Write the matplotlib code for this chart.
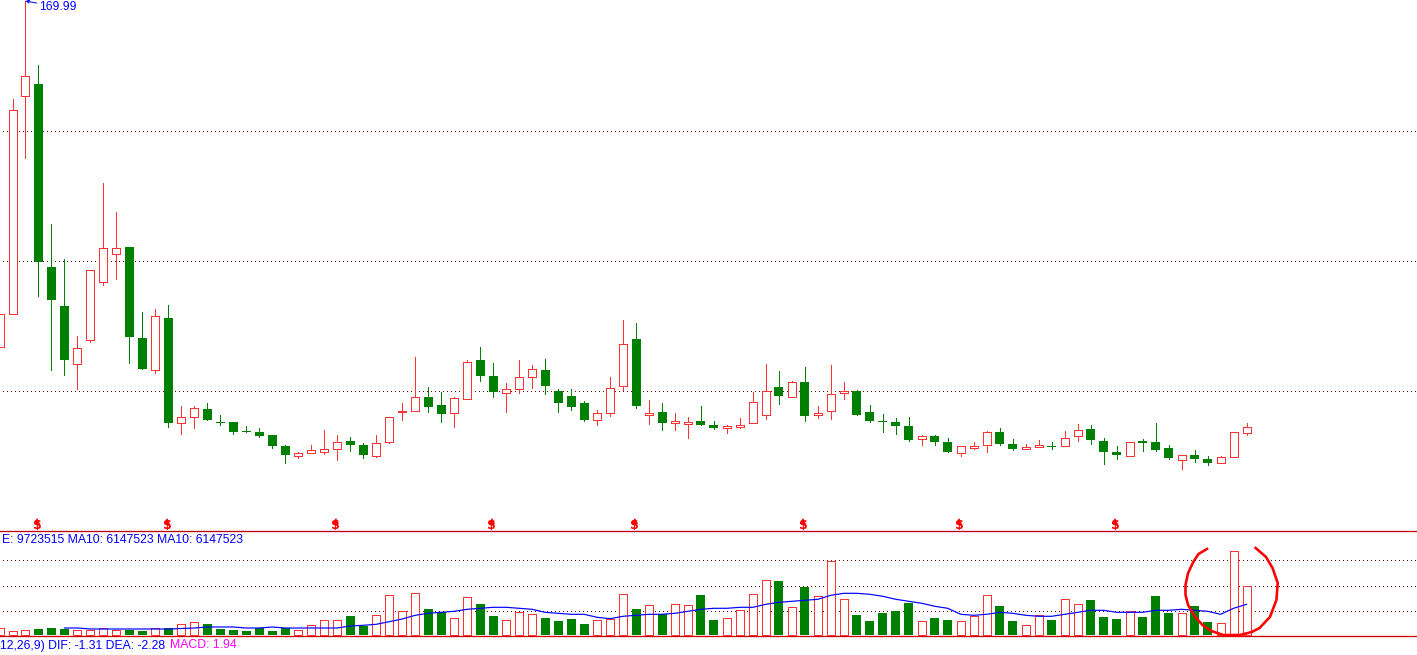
"""Candlestick chart with volume pane, redrawn from a trading-software screenshot."""
import numpy as np
import matplotlib
matplotlib.use("Agg")
import matplotlib.pyplot as plt

# price and volume are in chart units
high = [217, 432, 530, 466, 307, 272, 195, 261, 348, 319, 284, 219, 222, 226, 125, 125, 128, 116, 109, 105,
        103, 96, 86, 79, 86, 101, 96, 94, 88, 96, 114, 128, 174, 144, 139, 134, 171, 184, 168, 148,
        171, 166, 172, 142, 142, 130, 121, 154, 211, 208, 131, 128, 118, 114, 125, 110, 106, 113, 139, 167,
        160, 150, 164, 125, 166, 149, 141, 126, 117, 113, 114, 96, 96, 93, 85, 89, 100, 103, 92, 87,
        91, 89, 100, 107, 106, 93, 85, 89, 92, 108, 86, 76, 81, 75, 75, 99, 108]
low = [184, 217, 373, 235, 161, 156, 142, 189, 246, 252, 168, 162, 158, 104, 97, 103, 111, 106, 97, 99,
       94, 83, 68, 73, 78, 77, 71, 80, 73, 74, 88, 111, 120, 119, 109, 104, 132, 150, 134, 119,
       138, 143, 137, 119, 121, 110, 106, 115, 141, 123, 107, 101, 101, 93, 106, 102, 98, 103, 108, 112,
       127, 134, 110, 113, 112, 132, 116, 109, 99, 97, 90, 86, 86, 79, 75, 82, 79, 86, 81, 82,
       84, 82, 85, 90, 87, 67, 72, 75, 80, 80, 72, 62, 69, 66, 68, 74, 96]
open_ = [184, 217, 435, 447, 264, 225, 167, 191, 249, 277, 284, 193, 161, 213, 108, 114, 122, 109, 109, 100,
         99, 96, 85, 75, 78, 79, 82, 90, 86, 75, 89, 119, 120, 134, 126, 118, 132, 171, 155, 138,
         142, 154, 161, 140, 135, 128, 111, 118, 145, 192, 116, 119, 108, 107, 110, 106, 103, 104, 108, 116,
         144, 134, 149, 116, 120, 138, 140, 119, 110, 109, 105, 92, 95, 89, 78, 83, 86, 99, 87, 82,
         84, 85, 85, 95, 102, 90, 79, 75, 90, 89, 83, 71, 76, 72, 68, 74, 98]
close = [217, 421, 455, 269, 231, 171, 183, 261, 283, 283, 194, 162, 215, 108, 114, 123, 111, 108, 99, 99,
         95, 85, 76, 78, 81, 82, 89, 86, 76, 88, 114, 120, 134, 124, 117, 133, 169, 155, 139, 142,
         154, 162, 145, 128, 124, 111, 118, 143, 187, 125, 118, 108, 110, 109, 106, 103, 105, 106, 129, 140,
         135, 149, 115, 118, 137, 140, 116, 110, 109, 105, 91, 95, 89, 79, 85, 85, 99, 87, 82, 84,
         86, 84, 93, 101, 91, 79, 76, 89, 88, 81, 73, 76, 72, 68, 74, 99, 104]
volume = [7, 4, 5, 6, 7, 6, 5, 5, 7, 5, 5, 4, 7, 7, 11, 13, 11, 6, 5, 4,
          7, 4, 7, 5, 10, 15, 15, 19, 9, 20, 40, 24, 42, 26, 23, 17, 38, 31, 19, 15,
          23, 21, 17, 14, 16, 11, 15, 16, 41, 26, 30, 21, 31, 30, 40, 15, 17, 25, 41, 55,
          54, 28, 48, 39, 74, 36, 20, 14, 22, 24, 32, 14, 17, 15, 14, 19, 40, 29, 14, 10,
          20, 15, 36, 31, 35, 18, 16, 24, 18, 39, 22, 22, 29, 13, 12, 84, 49]
# MA10 of volume, starts at the 6th candle
vol_ma = [7, 7, 6, 6, 6, 6, 6, 6, 6, 6.5, 7, 8, 8, 8, 7, 7, 8, 7, 7, 7, 7, 7, 9,
          9.7, 10.7, 13.3, 16, 19.7, 21.7, 22.7, 23.7, 25.7, 26.7, 27.7, 27.7, 26.7, 25.7, 22.7, 21.7,
          20.7, 20.7, 17.7, 16.3, 18.7, 19.7, 20.7, 20.7, 21.7, 23.7, 25.7, 26.7, 26.7, 27.7, 27.7, 30.7,
          32.7, 33.7, 34.7, 35.7, 39.7, 41.7, 41.7, 40.7, 38.7, 35.7, 33.7, 31.7, 28.7, 26.7, 20.7, 19.7,
          20.7, 22.7, 21.7, 19.7, 18.7, 18.7, 20.7, 22.7, 24.7, 24.7, 22.7, 22.7, 22.7, 24.7, 24.7, 25.7,
          24.7, 23.7, 20.7, 26.7, 30.7]
ma_start = 5

price_grid = [400, 270.5, 140.5]
volume_grid = [75, 49.5, 24.5]
dollar_candles = [3, 13, 26, 38, 49, 62, 74, 86]

# hand-drawn ring round the last bars
ring_x = [92.95, 92.3, 91.9, 91.5, 91.3, 91.3, 91.5, 92.0, 92.6, 93.3,
          94.2, 95.5, 96.4, 97.0, 97.8, 98.3, 98.4, 98.0, 97.5, 96.7]
ring_y = [86, 81, 73, 62, 50, 40, 30, 19, 10, 4, 0, 0, 3, 7, 18, 35, 52, 67, 78, 87]

RED = "#ff3333"
GREEN = "#008000"
BLUE = "#0000ff"
GRID = "#800000"
PX = 0.72  # one pixel at dpi 100
STEP = 12.99  # pixels per candle

W, H, SPLIT = 1417, 655, 531


def draw_bars(ax, x, bottom, top, up):
    """Filled green for falling, white box with red edge for rising."""
    ax.bar(x[~up], top[~up] - bottom[~up], bottom=bottom[~up], width=9 / STEP,
           color=GREEN, linewidth=0, antialiased=False, zorder=3)
    ax.bar(x[up], top[up] - bottom[up], bottom=bottom[up], width=8 / STEP,
           facecolor="white", edgecolor=RED, linewidth=PX, antialiased=False, zorder=3)


def main():
    o, c, hi, lo, vol = map(np.array, (open_, close, high, low, volume))
    x = np.arange(len(c))
    up = c >= o
    xlim = (0.49 / STEP, (W + 0.49) / STEP)

    fig = plt.figure(figsize=(W / 100, H / 100), dpi=100, facecolor="white")
    ax = fig.add_axes([0, (H - SPLIT) / H, 1, SPLIT / H])
    axv = fig.add_axes([0, 0, 1, (H - SPLIT) / H])
    for a in (ax, axv):
        a.set_xlim(*xlim)
        a.axis("off")
    ax.set_ylim(0, SPLIT)
    axv.set_ylim(-20, 104)

    # price pane
    ax.hlines(price_grid, 3.5 / STEP, xlim[1], color=GRID, lw=PX, linestyles=(0, (1, 3)),
              antialiased=False, zorder=1)
    ax.vlines(x[~up], lo[~up], hi[~up], color=GREEN, lw=PX, antialiased=False, zorder=2)
    ax.vlines(x[up], lo[up], hi[up], color=RED, lw=PX, antialiased=False, zorder=2)
    draw_bars(ax, x, np.minimum(o, c), np.maximum(o, c), up)

    peak = int(np.argmax(hi))
    ax.annotate("169.99", xy=(peak, hi[peak]), xytext=(14, -6), textcoords="offset pixels",
                color=BLUE, fontsize=8.8, family="Liberation Sans", va="center", ha="left",
                arrowprops=dict(arrowstyle="->", color=BLUE, lw=PX, shrinkA=0, shrinkB=0,
                                mutation_scale=5))

    # dollar signs sit one pixel left of their candle
    for i in dollar_candles:
        xd = i - 1.5 / STEP
        ax.plot([xd], [10.5], marker="^", ms=4, color="#ff0000", mew=0, zorder=4)
        ax.text(xd, 5.5, "$", color="#ff0000", fontsize=9, fontweight="bold", ha="center", va="center",
                family="DejaVu Sans", zorder=4)

    # volume pane
    axv.hlines(volume_grid, 3.5 / STEP, xlim[1], color=GRID, lw=PX, linestyles=(0, (1, 3)),
               antialiased=False, zorder=1)
    draw_bars(axv, x, np.zeros(len(vol)), vol, up)
    axv.plot(np.arange(len(vol_ma)) + ma_start, vol_ma, color=BLUE, lw=PX * 1.2, zorder=4)
    axv.plot(ring_x, ring_y, color="#ff0000", lw=PX * 2.6, zorder=5)

    axv.axhline(-1, color="#d00000", lw=PX * 1.3, zorder=2)
    axv.axhline(104, color="#c00000", lw=PX * 1.3, clip_on=False, zorder=2)

    fnt = dict(fontsize=8.8, family="Liberation Sans", va="center", ha="left")
    axv.text(2 / STEP, 95, "E: 9723515 MA10: 6147523 MA10: 6147523", color=BLUE, **fnt)
    axv.text(0.49 / STEP, -10.5, "12,26,9) DIF: -1.31 DEA: -2.28", color=BLUE, **fnt)
    axv.text(170 / STEP, -10.5, "MACD: 1.94", color="#ff00ff", **fnt)

    fig.savefig("out.png", dpi=100)
    plt.close(fig)


if __name__ == "__main__":
    main()
